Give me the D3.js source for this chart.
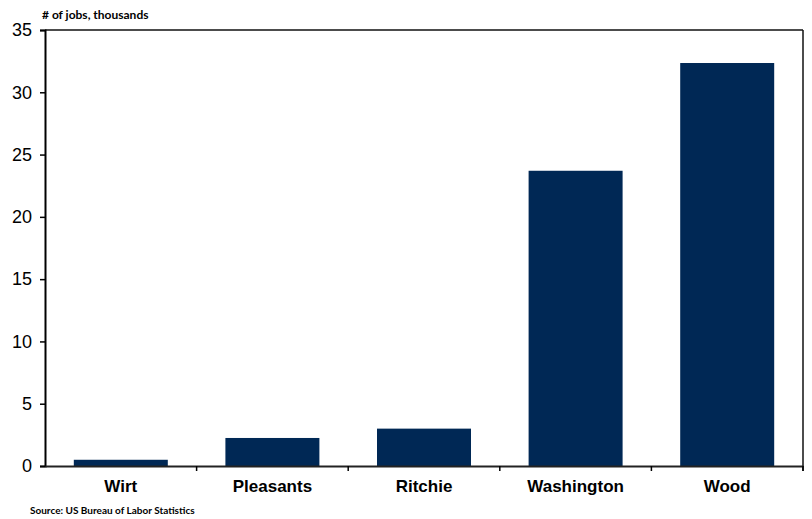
<!DOCTYPE html>
<html><head><meta charset="utf-8">
<script src="https://cdn.jsdelivr.net/npm/d3@7"></script>
<style>body{margin:0;background:#fff;}svg{display:block;}</style>
</head><body>
<script>
const categories = ["Wirt", "Pleasants", "Ritchie", "Washington", "Wood"];
const values = [0.5, 2.25, 3.0, 23.7, 32.35];
const yTicks = [0, 5, 10, 15, 20, 25, 30, 35];
const titleText = "# of jobs, thousands";
const sourceText = "Source: US Bureau of Labor Statistics";

const W = 812, H = 519;
const m = {left: 45, right: 9, top: 30, bottom: 53};
const svg = d3.select("body").append("svg").attr("width", W).attr("height", H);
const x = d3.scaleBand().domain(categories).range([m.left, W - m.right]).paddingInner(0.38).paddingOuter(0.19);
const xb = d3.scaleBand().domain(categories).range([m.left, W - m.right]);
const y = d3.scaleLinear().domain([0, 35]).range([H - m.bottom, m.top]);

svg.selectAll("rect.bar").data(values).enter().append("rect")
  .attr("class", "bar")
  .attr("x", (d, i) => x(categories[i]))
  .attr("width", x.bandwidth())
  .attr("y", d => y(d))
  .attr("height", d => y(0) - y(d))
  .attr("fill", "#002855");

// frame
svg.append("line").attr("x1", m.left).attr("x2", W - m.right).attr("y1", m.top).attr("y2", m.top).attr("stroke", "#111").attr("stroke-width", 1.5);
svg.append("line").attr("x1", W - m.right).attr("x2", W - m.right).attr("y1", m.top).attr("y2", y(0) + 5).attr("stroke", "#111").attr("stroke-width", 1.5);

// y axis
const ya = svg.append("g").attr("transform", `translate(${m.left},0)`)
  .call(d3.axisLeft(y).tickValues(yTicks).tickSize(5).tickPadding(8).tickFormat(d3.format("d")));
ya.select(".domain").attr("stroke", "#000").attr("stroke-width", 2);
ya.selectAll(".tick line").attr("stroke", "#000").attr("stroke-width", 1.5);
ya.selectAll(".tick text").attr("font-family", "Liberation Sans, Arial, sans-serif").attr("font-size", 18).attr("fill", "#000");

// x axis
const xa = svg.append("g").attr("transform", `translate(0,${y(0)})`)
  .call(d3.axisBottom(xb).tickSize(0).tickPadding(14));
xa.select(".domain").attr("stroke", "#222").attr("stroke-width", 2);
xa.selectAll(".tick text").attr("font-family", "Liberation Sans, Arial, sans-serif").attr("font-size", 17).attr("font-weight", "bold").attr("fill", "#000");
// boundary ticks
const bounds = categories.slice(1).map(c => xb(c)).concat([W - m.right]);
svg.selectAll("line.bt").data(bounds).enter().append("line").attr("class", "bt")
  .attr("x1", d => d).attr("x2", d => d).attr("y1", y(0)).attr("y2", y(0) + 5)
  .attr("stroke", "#000").attr("stroke-width", 1.5);

svg.append("text").attr("x", 42).attr("y", 19).text(titleText)
  .attr("font-family", "Lato, Open Sans, sans-serif").attr("font-weight", "bold").attr("font-size", 12).attr("fill", "#000");
svg.append("text").attr("x", 30).attr("y", 514).text(sourceText)
  .attr("font-family", "Lato, Open Sans, sans-serif").attr("font-weight", "bold").attr("font-size", 10).attr("fill", "#000");
</script>
</body></html>
